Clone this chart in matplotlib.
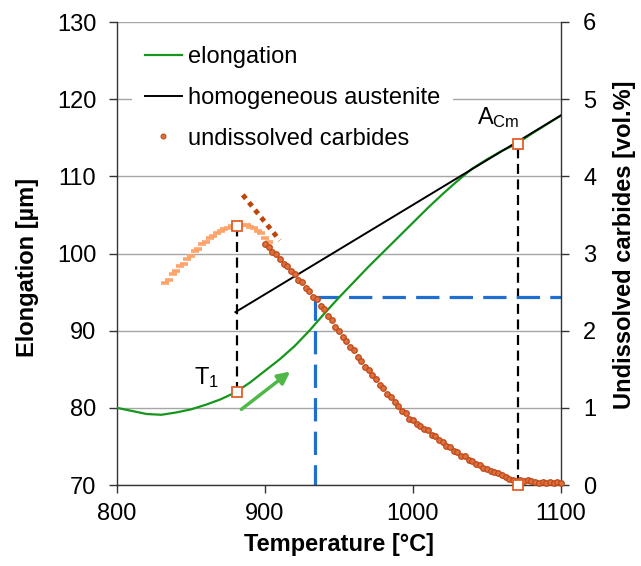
import matplotlib
matplotlib.use("Agg")
import matplotlib.pyplot as plt
from matplotlib.lines import Line2D

plt.rcParams['font.family'] = ['Liberation Sans', 'DejaVu Sans']
plt.rcParams['mathtext.fontset'] = 'custom'
plt.rcParams['mathtext.rm'] = 'Liberation Sans'
plt.rcParams['mathtext.it'] = 'Liberation Sans'

# ---------------- data ----------------
elong_T = [800, 810, 820, 830, 840, 850, 860, 870, 880, 890, 900, 910, 920, 930,
           940, 950, 960, 970, 980, 990, 1000, 1010, 1020, 1030, 1040, 1050,
           1060, 1070, 1080, 1090, 1100]
elong_E = [80.0, 79.6, 79.2, 79.1, 79.4, 79.8, 80.4, 81.1, 82.0, 83.3, 84.8, 86.3,
           88.0, 90.0, 92.2, 94.3, 96.3, 98.3, 100.2, 102.1, 104.0, 105.9, 107.7,
           109.4, 111.0, 112.2, 113.3, 114.2, 115.5, 116.7, 117.9]

aust_T = [880, 1100]
aust_E = [92.4, 117.9]

carb_light_T = [832.5, 835, 837.5, 840, 842.5, 845, 847.5, 850, 852.5, 855, 857.5,
                860, 862.5, 865, 867.5, 870, 872.5, 875, 877.5, 880, 882.5, 885,
                887.5, 890, 892.5, 895, 897.5, 900, 902.5]
carb_light_V = [2.62, 2.66, 2.74, 2.77, 2.84, 2.87, 2.93, 2.97, 3.03, 3.06, 3.12,
                3.15, 3.20, 3.23, 3.27, 3.29, 3.32, 3.33, 3.36, 3.36, 3.38, 3.37,
                3.37, 3.34, 3.33, 3.29, 3.26, 3.20, 3.15]

carb_dot_T = [885, 910]
carb_dot_V = [3.76, 3.17]

carb_T = [900, 902.5, 905, 907.5, 910, 912.5, 915, 917.5, 920, 922.5, 925, 927.5,
          930, 932.5, 935, 937.5, 940, 942.5, 945, 947.5, 950, 952.5, 955, 957.5,
          960, 962.5, 965, 967.5, 970, 972.5, 975, 977.5, 980, 982.5, 985, 987.5,
          990, 992.5, 995, 997.5, 1000, 1002.5, 1005, 1007.5, 1010, 1012.5, 1015,
          1017.5, 1020, 1022.5, 1025, 1027.5, 1030, 1032.5, 1035, 1037.5, 1040,
          1042.5, 1045, 1047.5, 1050, 1052.5, 1055, 1057.5, 1060, 1062.5, 1065,
          1067.5, 1070, 1072.5, 1075, 1077.5, 1080, 1082.5, 1085, 1087.5, 1090,
          1092.5, 1095, 1097.5, 1100]
carb_V = [3.12, 3.09, 3.02, 2.99, 2.93, 2.87, 2.84, 2.77, 2.73, 2.66, 2.63, 2.55,
          2.51, 2.44, 2.41, 2.32, 2.28, 2.19, 2.14, 2.05, 2.00, 1.92, 1.87, 1.79,
          1.75, 1.66, 1.61, 1.53, 1.49, 1.42, 1.38, 1.30, 1.26, 1.18, 1.14, 1.07,
          1.03, 0.96, 0.93, 0.86, 0.84, 0.79, 0.77, 0.72, 0.71, 0.65, 0.63,
          0.58, 0.56, 0.51, 0.49, 0.44, 0.43, 0.38, 0.37, 0.33, 0.31,
          0.27, 0.26, 0.22, 0.21, 0.18, 0.17, 0.15, 0.13, 0.10, 0.08,
          0.06, 0.05, 0.06, 0.05, 0.07, 0.05, 0.04, 0.03, 0.04, 0.03,
          0.04, 0.03, 0.04, 0.03]

T1_T, T1_E = 881, 82.0
peak_T, peak_V = 881, 3.36
acm_T, acm_E = 1071, 114.2
acm_V0 = 0.0
blue_T, blue_E = 933.8, 94.4

x_ticks = [800, 900, 1000, 1100]
y_ticks = [70, 80, 90, 100, 110, 120, 130]
y2_ticks = [0, 1, 2, 3, 4, 5, 6]

FS = 17

# ---------------- figure ----------------
W, H = 641, 566
fig = plt.figure(figsize=(W / 100, H / 100), dpi=100)
ax = fig.add_axes([117 / W, (H - 485) / H, 444 / W, 463 / H])
ax2 = ax.twinx()

ax.set_xlim(800, 1100)
ax.set_ylim(70, 130)
ax2.set_ylim(0, 6)
ax.set_xticks(x_ticks)
ax.set_yticks(y_ticks)
ax2.set_yticks(y2_ticks)

ax.grid(axis='y', color='#a6a6a6', lw=1)
ax.set_axisbelow(True)

for a in (ax, ax2):
    a.spines['top'].set_visible(False)
ax.spines['right'].set_visible(False)
ax2.spines['left'].set_visible(False)
ax2.spines['bottom'].set_visible(False)
for sp in (ax.spines['left'], ax.spines['bottom'], ax2.spines['right']):
    sp.set_color('#333333')
    sp.set_linewidth(1.0)

ax.tick_params(axis='x', direction='out', length=6, width=1, color='#333333',
               labelsize=FS, pad=7)
ax.tick_params(axis='y', direction='out', length=6, width=1, color='#333333',
               labelsize=FS, pad=9)
ax2.tick_params(axis='y', direction='out', length=6, width=1, color='#333333',
                labelsize=FS, pad=10)

# elongation & austenite
ax.plot(elong_T, elong_E, color='#16961c', lw=1.6, label='elongation', zorder=3)
ax.plot(aust_T, aust_E, color='black', lw=1.4, label='homogeneous austenite', zorder=3)

# black dashed guides
ax.plot([T1_T, T1_T], [T1_E, 70 + peak_V * 10], color='black', lw=1.6,
        dashes=(4.5, 2.5), zorder=2)
ax.plot([acm_T, acm_T], [70, acm_E], color='black', lw=1.6, dashes=(4.5, 2.5), zorder=2)

# blue dashed
ax.plot([blue_T, blue_T], [blue_E, 70], color='#1f6fd0', lw=2.3,
        dashes=(7.3, 3.2), zorder=2)
ax.plot([blue_T, 1100], [blue_E, blue_E], color='#1f6fd0', lw=2.3,
        dashes=(7.3, 3.2), zorder=2, clip_on=False)

# arrow
ax.annotate('', xy=(917, 84.7), xytext=(884, 79.8),
            arrowprops=dict(arrowstyle='-|>', color='#50b848', lw=2.5,
                            mutation_scale=18, shrinkA=0, shrinkB=0))

# carbides
ax2.plot(carb_light_T, carb_light_V, linestyle='none', marker='_', ms=6, mew=2.6,
         color='#ffa46a', zorder=3)
ax2.plot(carb_dot_T, carb_dot_V, color='#c0440a', lw=3.5, dashes=(1, 1),
         dash_capstyle='butt', zorder=3)
ax2.plot(carb_T, carb_V, linestyle='none', marker='o', ms=4.0, mfc='#dc7040',
         mec='#c04a18', mew=0.9, zorder=3, clip_on=False)

# square markers
sq = dict(marker='s', ms=7.0, mfc='white', mec='#e0602a', mew=1.3, linestyle='none',
          zorder=5, clip_on=False)
ax.plot([T1_T], [T1_E], **sq)
ax.plot([acm_T], [acm_E], **sq)
ax2.plot([peak_T], [peak_V], **sq)
ax2.plot([acm_T], [acm_V0], **sq)

# annotations
ax2.text(860.8, (83.9 - 70) / 10, 'T$_\\mathregular{1}$', fontsize=FS,
         ha='center', va='center')
ax2.text(1057.4, (117.6 - 70) / 10, 'A$_\\mathregular{Cm}$', fontsize=FS,
         ha='center', va='center')

# axis labels
ax.set_xlabel('Temperature [°C]', fontsize=FS, fontweight='bold', labelpad=6)
fig.text(28 / W, 1 - 267 / H, 'Elongation [µm]', rotation=90, ha='center',
         va='center', fontsize=FS, fontweight='bold')
fig.text(625 / W, 1 - 245 / H, 'Undissolved carbides [vol.%]', rotation=90,
         ha='center', va='center', fontsize=FS, fontweight='bold')

# legend
handles = [Line2D([], [], color='#16961c', lw=1.6),
           Line2D([], [], color='black', lw=1.4),
           Line2D([], [], linestyle='none', marker='o', ms=3.5, mfc='#dc7040',
                  mec='#c04a18', mew=0.8)]
labels = ['elongation', 'homogeneous austenite', 'undissolved carbides']
leg = ax2.legend(handles, labels, loc='upper left',
                 bbox_to_anchor=(132 / W, 1 - 33 / H), bbox_transform=fig.transFigure,
                 fontsize=FS, frameon=True, fancybox=False, framealpha=1,
                 borderpad=0.55, borderaxespad=0, handlelength=1.55,
                 handletextpad=0.28, labelspacing=0.8)
leg.get_frame().set_edgecolor('none')
leg.get_frame().set_facecolor('white')
leg.set_zorder(10)

fig.savefig('out.png', dpi=100)
